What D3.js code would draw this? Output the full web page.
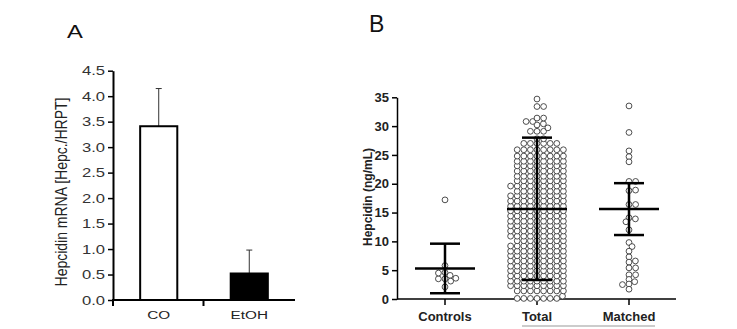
<!DOCTYPE html>
<html>
<head>
<meta charset="utf-8">
<script src="https://cdn.jsdelivr.net/npm/d3@7"></script>
<style>
  body { margin: 0; background: #fff; }
  text { font-family: "Liberation Sans", Arial, sans-serif; }
</style>
</head>
<body>
<svg id="chart"></svg>
<script>
// panel A: qPCR bars
let barCategories = ["CO", "EtOH"]
let barMeans = [3.41, 0.52]
let barErrors = [0.74, 0.46]
let barFills = ["#fff", "#000"]
let barTicks = [0, 0.5, 1, 1.5, 2, 2.5, 3, 3.5, 4, 4.5]

// panel B: serum hepcidin scatter
let groups = ["Controls", "Total", "Matched"]
let controlsValues = [17.2, 5.8, 4.6, 4.1, 3.5, 3.1, 3.5, 3.6, 4.5, 2.1]
let matchedValues = [33.5, 28.9, 25.7, 24.7, 23.8, 20.4, 20.4, 18.8, 18.9, 16.4, 16.4,
  14.1, 13.9, 13.4, 12.0, 9.8, 9.1, 8.3, 7.3, 6.4, 6.6, 5.4, 5.4, 4.2, 4.2, 3.4,
  2.6, 3.0, 2.5, 1.7]
// total group read row by row: [value, number of dots in that row]
let totalRows = [[0.1, 7], [0.5, 1], [1.4, 8], [2.3, 9], [3.1, 9], [4.0, 9], [4.9, 9],
  [5.7, 9], [6.6, 9], [7.5, 9], [8.3, 9], [9.2, 9], [10.1, 8], [10.9, 9], [11.8, 9],
  [12.7, 9], [13.5, 9], [14.4, 9], [15.3, 9], [16.1, 9], [17.0, 9], [17.9, 9],
  [18.7, 8], [19.6, 9], [20.5, 8], [21.3, 8], [22.2, 8], [23.1, 8], [23.9, 8],
  [24.8, 8], [25.9, 8], [27.0, 6], [27.8, 2], [29.1, 3], [29.7, 1], [30.2, 1],
  [30.4, 1], [30.8, 2], [31.4, 2], [33.4, 2], [34.7, 1]]
let groupMeans = [5.3, 15.6, 15.6]
let groupUpper = [9.6, 28.0, 20.1]
let groupLower = [1.0, 3.3, 11.1]
let scatterTicks = [0, 5, 10, 15, 20, 25, 30, 35]

function getConfig() {
  let width = 737
  let height = 329
  let container = d3.select("#chart")
    .attr("width", width)
    .attr("height", height)
  return { width, height, container }
}

// panel A's lettering is stretched sideways in the source figure
let stretchA = 1.33

function drawPanelA(config) {
  let { container } = config
  let g = container.append("g")

  let y = d3.scaleLinear().domain([0, 4.5]).range([300, 70.7])
  let x = d3.scaleBand().domain(barCategories).range([113, 295])
    .paddingInner(0.59).paddingOuter(0.3)

  // y axis
  let yAxis = g.append("g")
    .attr("transform", "translate(113,0)")
    .call(d3.axisLeft(y).tickValues(barTicks).tickFormat(d3.format(".1f")).tickSize(5).tickSizeOuter(0))
  yAxis.select(".domain").attr("stroke", "#000").attr("stroke-width", 2)
  yAxis.selectAll(".tick line").attr("stroke", "#000").attr("stroke-width", 1.5)
  yAxis.selectAll(".tick text").attr("font-size", 12.5).attr("fill", "#333")
    .attr("x", -8 / stretchA).attr("transform", `scale(${stretchA},1)`)

  // x axis line with ticks between categories
  g.append("line").attr("x1", 112).attr("x2", 295).attr("y1", 300).attr("y2", 300)
    .attr("stroke", "#000").attr("stroke-width", 2)
  let bounds = [113, x("EtOH") - x.step() * x.paddingInner() / 2 - 0.5]
  g.selectAll(".xtick").data(bounds).enter().append("line")
    .attr("x1", d => d).attr("x2", d => d).attr("y1", 300).attr("y2", 306)
    .attr("stroke", "#000").attr("stroke-width", 2)

  g.selectAll(".xlab").data(barCategories).enter().append("text")
    .attr("transform", d => `translate(${x(d) + x.bandwidth() / 2},319) scale(${stretchA},1)`)
    .attr("text-anchor", "middle")
    .attr("font-size", 11.5)
    .attr("fill", "#222")
    .text(d => d)

  // error bars (upper only)
  barCategories.forEach((c, i) => {
    let cx = x(c) + x.bandwidth() / 2
    g.append("line").attr("x1", cx).attr("x2", cx)
      .attr("y1", y(barMeans[i])).attr("y2", y(barMeans[i] + barErrors[i]))
      .attr("stroke", "#333").attr("stroke-width", 1)
    g.append("line").attr("x1", cx - 3).attr("x2", cx + 3)
      .attr("y1", y(barMeans[i] + barErrors[i])).attr("y2", y(barMeans[i] + barErrors[i]))
      .attr("stroke", "#333").attr("stroke-width", 1)
  })

  g.selectAll(".bar").data(barMeans).enter().append("rect")
    .attr("x", (d, i) => x(barCategories[i]))
    .attr("y", d => y(d))
    .attr("width", x.bandwidth())
    .attr("height", d => y(0) - y(d))
    .attr("fill", (d, i) => barFills[i])
    .attr("stroke", "#000")
    .attr("stroke-width", 2)

  g.append("text")
    .attr("transform", "translate(67,192) rotate(-90) scale(1,1.2)")
    .attr("text-anchor", "middle")
    .attr("font-size", 14)
    .attr("fill", "#222")
    .text("Hepcidin mRNA [Hepc./HRPT]")

  g.append("text").attr("transform", "translate(67,38) scale(1.25,1)")
    .attr("font-size", 19).attr("fill", "#111").text("A")
}

// simple beeswarm: place each dot at the free x nearest the centre line.
// vertical gaps count a bit more than horizontal ones so rows stay flat
function dodge(values, yScale, diameter, yWeight) {
  let placed = []
  values.forEach(v => {
    let py = yScale(v)
    let near = placed.filter(p => Math.abs(p.y - py) * yWeight < diameter)
    let candidates = [0]
    near.forEach(p => {
      let dy = (p.y - py) * yWeight
      let dx = Math.sqrt(diameter * diameter - dy * dy)
      candidates.push(p.x + dx, p.x - dx)
    })
    candidates.sort((a, b) => Math.abs(a) - Math.abs(b))
    let cx = candidates.find(c => near.every(p => {
      let dy = (p.y - py) * yWeight
      return (p.x - c) * (p.x - c) + dy * dy >= diameter * diameter - 0.01
    }))
    placed.push({ x: cx, y: py, v })
  })
  return placed
}

function drawPanelB(config) {
  let { container } = config
  let g = container.append("g")

  let y = d3.scaleLinear().domain([0, 35]).range([299, 97.3])
  let x = d3.scalePoint().domain(groups).range([445, 629])

  let yAxis = g.append("g")
    .attr("transform", "translate(397,0)")
    .call(d3.axisLeft(y).tickValues(scatterTicks).tickSize(5).tickSizeOuter(0))
  yAxis.select(".domain").attr("stroke", "#000").attr("stroke-width", 1.5)
  yAxis.selectAll(".tick line").attr("stroke", "#000").attr("stroke-width", 1.5)
  yAxis.selectAll(".tick text").attr("font-size", 13).attr("font-weight", "bold")
    .attr("fill", "#222").attr("x", -8)

  g.append("line").attr("x1", 397).attr("x2", 676).attr("y1", 299).attr("y2", 299)
    .attr("stroke", "#000").attr("stroke-width", 1.5)
  g.selectAll(".xtick").data(groups).enter().append("line")
    .attr("x1", d => x(d)).attr("x2", d => x(d)).attr("y1", 299).attr("y2", 305)
    .attr("stroke", "#000").attr("stroke-width", 1.5)
  g.selectAll(".xlab").data(groups).enter().append("text")
    .attr("x", d => x(d)).attr("y", 320.5)
    .attr("text-anchor", "middle")
    .attr("font-size", 13).attr("font-weight", "bold").attr("fill", "#222")
    .text(d => d)
  g.append("line").attr("x1", 522).attr("x2", 655).attr("y1", 326).attr("y2", 326)
    .attr("stroke", "#999").attr("stroke-width", 1)

  g.append("text")
    .attr("transform", "translate(372,197) rotate(-90)")
    .attr("text-anchor", "middle")
    .attr("font-size", 12).attr("font-weight", "bold").attr("fill", "#222")
    .text("Hepcidin (ng/mL)")

  let totalValues = totalRows.flatMap(r => Array(r[1]).fill(r[0]))
  let groupValues = [controlsValues, totalValues, matchedValues]

  groupValues.forEach((vals, i) => {
    let dots = dodge(vals, y, 6.6, 1.45)
    g.append("g").selectAll("circle").data(dots).enter().append("circle")
      .attr("cx", d => x(groups[i]) + d.x)
      .attr("cy", d => d.y)
      .attr("r", 2.9)
      .attr("fill", "#fff")
      .attr("stroke", "#3a3a3a")
      .attr("stroke-width", 0.9)
  })

  // mean and spread bars
  groups.forEach((grp, i) => {
    let cx = x(grp)
    let s = g.append("g").attr("stroke", "#000").attr("stroke-width", 2.5)
    s.append("line").attr("x1", cx).attr("x2", cx).attr("y1", y(groupLower[i])).attr("y2", y(groupUpper[i]))
    s.append("line").attr("x1", cx - 30).attr("x2", cx + 30).attr("y1", y(groupMeans[i])).attr("y2", y(groupMeans[i]))
    s.append("line").attr("x1", cx - 15).attr("x2", cx + 15).attr("y1", y(groupUpper[i])).attr("y2", y(groupUpper[i]))
    s.append("line").attr("x1", cx - 15).attr("x2", cx + 15).attr("y1", y(groupLower[i])).attr("y2", y(groupLower[i]))
  })

  g.append("text").attr("x", 369).attr("y", 31.5)
    .attr("font-size", 23).attr("fill", "#111").text("B")
}

let config = getConfig()
drawPanelA(config)
drawPanelB(config)
</script>
</body>
</html>
